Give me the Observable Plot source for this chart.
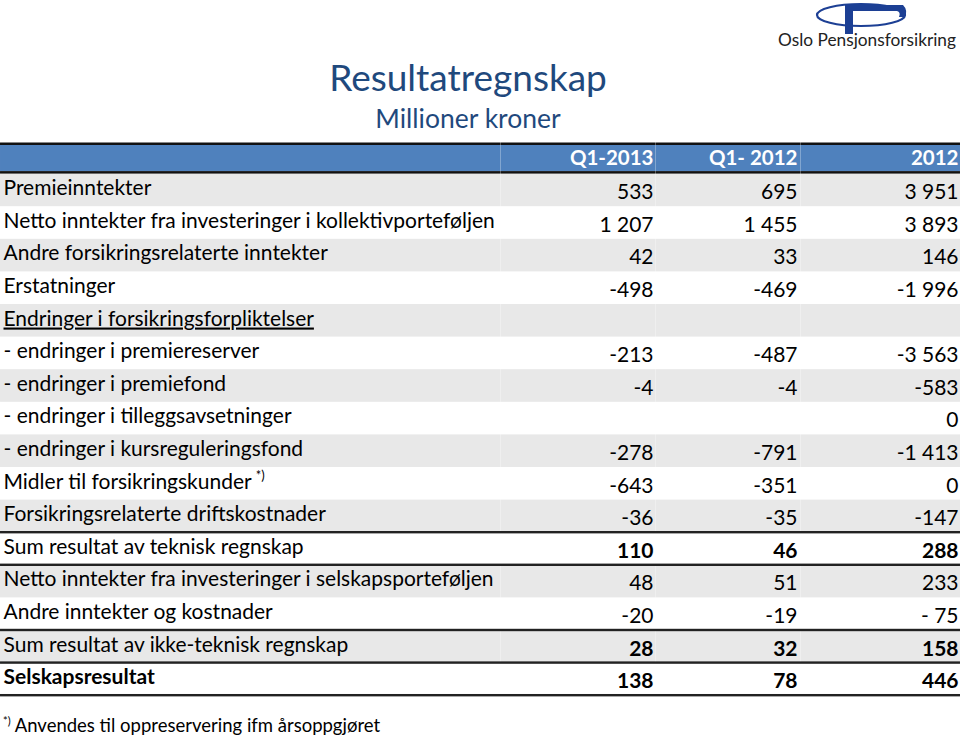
<!DOCTYPE html>
<html>
<head>
<meta charset="utf-8">
<script src="https://cdn.jsdelivr.net/npm/d3@7"></script>
<script src="https://cdn.jsdelivr.net/npm/@observablehq/plot@0.6"></script>
<style>
  html, body { margin: 0; padding: 0; background: #fff; }
  body { width: 960px; height: 739px; position: relative; overflow: hidden; font-family: Lato, "Open Sans", sans-serif; }
  #title { position: absolute; left: 0; width: 936px; top: 55px; text-align: center; color: #1f497d; font-size: 37px; line-height: 44px; }
  #subtitle { position: absolute; left: 0; width: 936px; top: 102px; text-align: center; color: #1f497d; font-size: 26.5px; line-height: 32px; }
  #logo { position: absolute; left: 770px; top: 0; }
  #chart { position: absolute; left: 0; top: 141px; }
  #note { position: absolute; left: 3px; top: 714px; font-size: 18.5px; color: #000; }
  #note sup { font-size: 11px; }
</style>
</head>
<body>
<svg id="logo" width="190" height="52" viewBox="0 0 190 52">
  <ellipse cx="91" cy="15" rx="44" ry="11" fill="none" stroke="#1c3f94" stroke-width="2.2"/>
  <path d="M75,5 L133,5 Q138,10 135,17 L129,17 Q131,12 127,11 L83,11 L83,34 L75,34 L75,11 Z" fill="#1c3f94"/>
  <text x="8" y="46" font-family="Lato, sans-serif" font-size="17.3" fill="#222">Oslo Pensjonsforsikring</text>
</svg>
<div id="title">Resultatregnskap</div>
<div id="subtitle">Millioner kroner</div>
<div id="chart"></div>
<div id="note"><sup>*)</sup> Anvendes til oppreservering ifm årsoppgjøret</div>
<script>
// ---- data ----
const columns = ["Q1-2013", "Q1- 2012", "2012"];
const rowLabels = [
  "Premieinntekter",
  "Netto inntekter fra investeringer i kollektivporteføljen",
  "Andre forsikringsrelaterte inntekter",
  "Erstatninger",
  "Endringer i forsikringsforpliktelser",
  "- endringer i premiereserver",
  "- endringer i premiefond",
  "- endringer i tilleggsavsetninger",
  "- endringer i kursreguleringsfond",
  "Midler til forsikringskunder",
  "Forsikringsrelaterte driftskostnader",
  "Sum resultat av teknisk regnskap",
  "Netto inntekter fra investeringer i selskapsporteføljen",
  "Andre inntekter og kostnader",
  "Sum resultat av ikke-teknisk regnskap",
  "Selskapsresultat"
];
const valuesQ1_2013 = [533, 1207, 42, -498, null, -213, -4, null, -278, -643, -36, 110, 48, -20, 28, 138];
const valuesQ1_2012 = [695, 1455, 33, -469, null, -487, -4, null, -791, -351, -35, 46, 51, -19, 32, 78];
const values2012   = [3951, 3893, 146, -1996, null, -3563, -583, 0, -1413, 0, -147, 288, 233, -75, 158, 446];
const boldValueRows = [11, 14, 15];
const boldLabelRows = [15];
const ruledRows = [10, 11, 13, 14, 15];

// ---- layout ----
const W = 960, rowH = 32.6;
const colRight = [653, 797, 958];
const fmtNum = (v) => {
  if (v == null) return "";
  const s = d3.format(",d")(Math.abs(v)).replace(/,/g, " ");
  return (v < 0 ? (v === -75 ? "- " : "-") : "") + s;
};

const rows = rowLabels.map((label, i) => ({
  i, label,
  vals: [valuesQ1_2013[i], valuesQ1_2012[i], values2012[i]],
  bold: boldValueRows.includes(i),
  boldLabel: boldLabelRows.includes(i)
}));
const cells = rows.flatMap(r => r.vals.map((v, c) => ({i: r.i, c, v, bold: r.bold})));
const headerCells = columns.map((name, c) => ({name, c}));
const keys = ["h", ...rows.map(r => r.i)];

const font = "Lato, 'Open Sans', sans-serif";
const fs = 21;

const plot = Plot.plot({
  width: W,
  height: rowH * keys.length + 3,
  margin: 0,
  marginBottom: 3,
  style: {fontFamily: font, background: "transparent"},
  x: {type: "linear", domain: [0, W], range: [0, W], axis: null},
  y: {type: "band", domain: keys, padding: 0, round: false, axis: null},
  marks: [
    // zebra rows
    Plot.barX(rows.filter(r => r.i % 2 === 0), {x1: 0, x2: W, y: "i", fill: "#e8e8e8"}),
    // header band
    Plot.barX(["h"], {x1: 0, x2: W, y: d => d, fill: "#4f81bd", insetTop: 4, insetBottom: 2.5}),
    Plot.barX(["h"], {x1: 0, x2: W, y: d => d, fill: "#111", insetTop: 1.5, insetBottom: rowH - 4}),
    Plot.barX(["h"], {x1: 0, x2: W, y: d => d, fill: "#111", insetTop: rowH - 2.5}),
    // faint cell separators
    Plot.ruleX([500, 655, 800], {x: d => d, stroke: "#fff", strokeOpacity: 0.3, strokeWidth: 1}),
    // black rules under total rows
    Plot.barX(ruledRows, {x1: 0, x2: W, y: d => d, fill: "#222", insetTop: rowH - 1.2, insetBottom: -1.2}),
    // header text
    Plot.text(headerCells, {x: d => colRight[d.c], y: () => "h", text: "name", textAnchor: "end",
      fill: "#fff", fontWeight: "bold", fontSize: 20.5, dy: 1}),
    // row labels
    Plot.text(rows.filter(r => !r.boldLabel), {x: 3, y: "i", text: "label", textAnchor: "start", fill: "#000", fontSize: fs, dy: -2}),
    Plot.text(rows.filter(r => r.boldLabel), {x: 3, y: "i", text: "label", textAnchor: "start", fill: "#000", fontSize: fs, fontWeight: "bold", dy: -2}),
    // values
    Plot.text(cells.filter(d => !d.bold), {x: d => colRight[d.c], y: "i", text: d => fmtNum(d.v), textAnchor: "end", fill: "#000", fontSize: fs, dy: 2}),
    Plot.text(cells.filter(d => d.bold), {x: d => colRight[d.c], y: "i", text: d => fmtNum(d.v), textAnchor: "end", fill: "#000", fontSize: fs, fontWeight: "bold", dy: 2})
  ]
});
document.getElementById("chart").appendChild(plot);

// text decorations: underline section heading, superscript footnote marker
d3.select(plot).selectAll("text").each(function() {
  const t = this.textContent;
  if (t === "Endringer i forsikringsforpliktelser") {
    d3.select(this).style("text-decoration", "underline");
  } else if (t === "Midler til forsikringskunder") {
    d3.select(this).append("tspan").attr("dx", 4).attr("dy", -9).attr("font-size", 13).text("*)");
  }
});
</script>
</body>
</html>
